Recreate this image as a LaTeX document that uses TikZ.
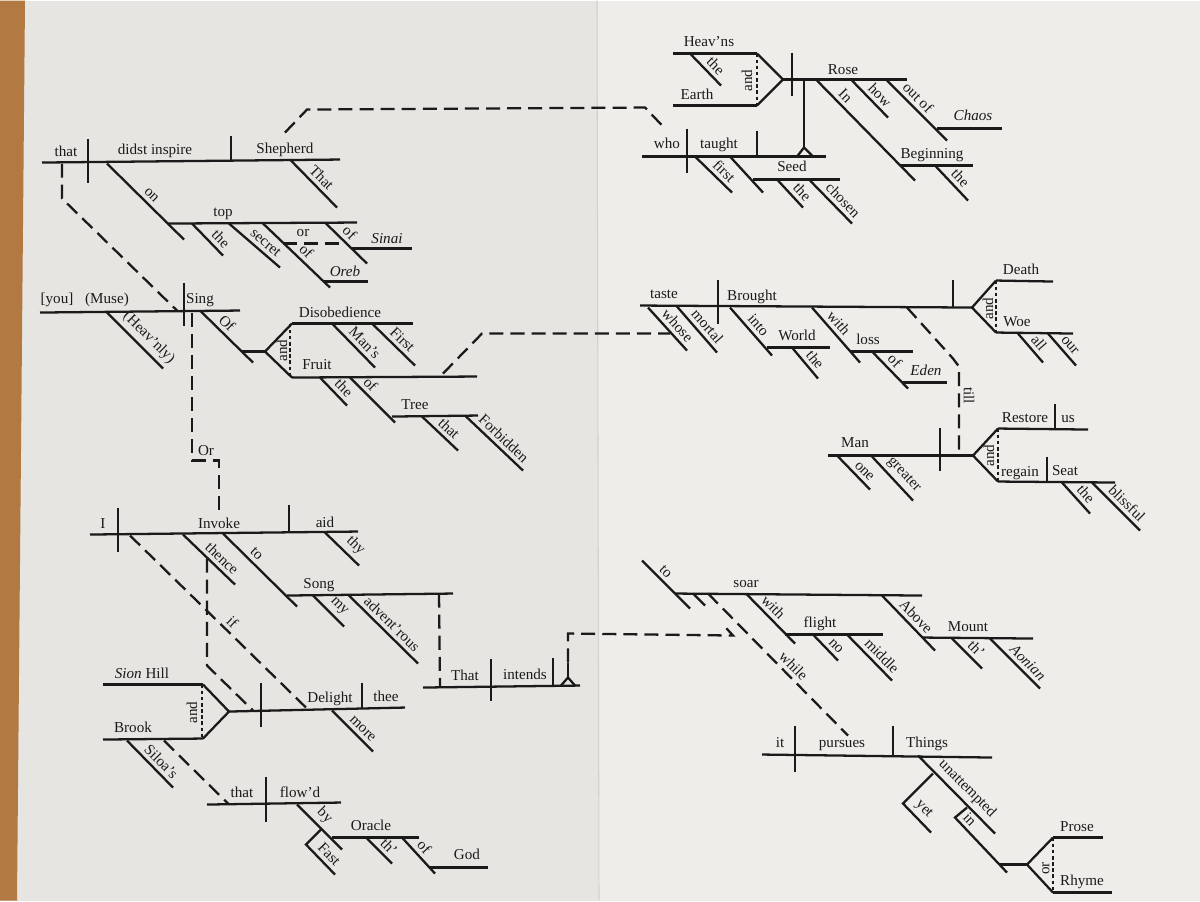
\documentclass[tikz,border=0pt]{standalone}
\usepackage{fontspec}
\setmainfont{Liberation Serif}
\usepackage{xcolor}
\usetikzlibrary{positioning}

\definecolor{ink}{HTML}{1A1A1A}
\definecolor{paper}{HTML}{E6E5E1}
\definecolor{paperR}{HTML}{EEEDEA}
\definecolor{wood}{HTML}{B27A42}
\definecolor{fold}{HTML}{D2D1CD}

\begin{document}
\begin{tikzpicture}[
    x=0.02cm, y=-0.02cm,
    rule/.style={draw=ink, line width=1.3pt},
    link/.style={draw=ink, line width=1.3pt, dash pattern=on 8pt off 4pt},
    conj/.style={draw=ink, line width=0.8pt, dash pattern=on 2pt off 1.5pt},
    word/.style={anchor=base, inner sep=0pt, text=ink, font=\fontsize{8.6}{10}\selectfont},
    mod/.style={sloped, above=1.6pt, inner sep=0.5pt, text=ink, font=\fontsize{8.6}{10}\selectfont},
    vword/.style={rotate=90, inner sep=0pt, text=ink, font=\fontsize{8.6}{10}\selectfont}
]

    % ================= PAPER =================
    \fill[paper] (0,0) rectangle (1200,900);
    \fill[paperR] (598,0) rectangle (1200,900);
    \fill[wood] (0,0) -- (25,0) -- (17,900) -- (0,900) -- cycle;
    \draw[fold, line width=0.6pt] (597,0) -- (599,900);
    \useasboundingbox (0,0) rectangle (1200,900);

    % ================= THAT DIDST INSPIRE =================
    \draw[rule] (42,162) -- (340,159);
    \draw[rule] (88,138) -- (88,182);
    \draw[rule] (231,135) -- (231,160);
    \node[word] (w-that1) at (66,156) {that};
    \node[word] (w-inspire) at (155,154) {didst inspire};
    \node[word] (w-shepherd) at (285,153) {Shepherd};
    \draw[rule] (290,159) -- node[mod, pos=.52] (m-that1) {That} (337,207);
    \draw[rule] (107,163) -- node[mod, pos=.5] (m-on) {on} (184,239);
    \draw[rule] (168,223) -- (357,222);
    \node[word] (w-top) at (223,216) {top};
    \draw[rule] (192,223) -- node[mod, pos=.7] (m-the1) {the} (223,255);
    \draw[rule] (229,223) -- node[mod, pos=.6] (m-secret) {secret} (280,267);
    \draw[rule] (262,222) -- node[mod, pos=.55] (m-of1) {of} (330,287);
    \draw[rule] (323,281) -- (368,281);
    \node[word] (w-oreb) at (345,276) {\textit{Oreb}};
    \draw[link] (283,243) -- (345,243);
    \node[word] (w-or1) at (303,236) {or};
    \draw[rule] (325,222) -- node[mod, pos=.42] (m-of2) {of} (367,263);
    \draw[rule] (351,248) -- (412,248);
    \node[word] (w-sinai) at (387,243) {\textit{Sinai}};
    % that -> Sing
    \draw[link] (62,163) -- (62,198) -- (177,310);

    % ================= SING =================
    \draw[rule] (40,312) -- (240,310);
    \draw[rule] (184,282) -- (184,325);
    \node[word] (w-you) at (57,303) {[you]};
    \node[word] (w-muse) at (107,303) {(Muse)};
    \node[word] (w-sing) at (200,303) {Sing};
    \draw[rule] (107,312) -- node[mod, pos=.6] (m-heavnly) {(Heav'nly)} (163,368);
    \draw[rule] (200,310) -- node[mod, pos=.38] (m-of3) {Of} (253,362);
    \coordinate (fork1) at (265,351);
    \draw[rule] (242,351) -- (fork1);
    \draw[rule] (292,323) -- (fork1) -- (292,377);
    \draw[rule] (292,323) -- (413,323);
    \draw[rule] (292,377) -- (477,376);
    \draw[conj] (290,323) -- (290,377);
    \node[vword] (v-and1) at (282,350) {and};
    \node[word] (w-disob) at (340,317) {Disobedience};
    \node[word] (w-fruit) at (317,369) {Fruit};
    \draw[rule] (332,323) -- node[mod, pos=.6] (m-mans) {Man's} (375,367);
    \draw[rule] (372,323) -- node[mod, pos=.55] (m-first1) {First} (415,365);
    \draw[rule] (320,377) -- node[mod, pos=.62] (m-the2) {the} (347,405);
    \draw[rule] (350,377) -- node[mod, pos=.3] (m-of4) {of} (395,422);
    \draw[rule] (392,416) -- (478,415);
    \node[word] (w-tree) at (415,409) {Tree};
    \draw[rule] (422,416) -- node[mod, pos=.56] (m-that2) {that} (458,450);
    \draw[rule] (465,415) -- node[mod, pos=.55] (m-forbid) {Forbidden} (523,470);
    % Sing -> Invoke
    \draw[link] (192,312) -- (192,460) -- (219,460) -- (219,515);
    \node[word] (w-or2) at (206,455) {Or};
    % Fruit -> whose
    \draw[link] (443,373) -- (482,333) -- (670,333);

    % ================= HEAV'NS AND EARTH ROSE =================
    \draw[rule] (673,53) -- (757,53);
    \draw[rule] (673,105) -- (757,105);
    \node[word] (w-heavns) at (709,46) {Heav'ns};
    \node[word] (w-earth) at (697,99) {Earth};
    \draw[rule] (690,53) -- node[mod, pos=.6] (m-the3) {the} (721,85);
    \coordinate (fork2) at (783,79);
    \draw[rule] (757,53) -- (fork2) -- (757,105);
    \draw[conj] (757,53) -- (757,105);
    \node[vword] (v-and2) at (747,80) {and};
    \draw[rule] (fork2) -- (907,79);
    \draw[rule] (792,52) -- (792,95);
    \node[word] (w-rose) at (843,74) {Rose};
    \draw[rule] (817,80) -- node[mod, pos=.22] (m-in1) {In} (915,180);
    \draw[rule] (900,165) -- (973,165);
    \node[word] (w-begin) at (932,158) {Beginning};
    \draw[rule] (935,165) -- node[mod, pos=.55] (m-the4) {the} (968,200);
    \draw[rule] (852,80) -- node[mod, pos=.58] (m-how) {how} (888,117);
    \draw[rule] (887,80) -- node[mod, pos=.4] (m-outof) {out of} (947,140);
    \draw[rule] (937,128) -- (1002,128);
    \node[word] (w-chaos) at (973,120) {\textit{Chaos}};
    % pedestal
    \draw[rule] (804,79) -- (804,147);
    \draw[rule] (797,156) -- (804,147) -- (813,156);

    % ================= WHO TAUGHT =================
    \draw[rule] (642,156) -- (826,156);
    \draw[rule] (687,128) -- (687,172);
    \draw[rule] (757,130) -- (757,156);
    \node[word] (w-who) at (667,148) {who};
    \node[word] (w-taught) at (719,148) {taught};
    \draw[rule] (695,156) -- node[mod, pos=.6] (m-first2) {first} (732,192);
    \draw[rule] (730,156) -- (763,192);
    \draw[rule] (753,179) -- (840,179);
    \node[word] (w-seed) at (792,171) {Seed};
    \draw[rule] (778,180) -- node[mod, pos=.68] (m-the5) {the} (803,207);
    \draw[rule] (810,180) -- node[mod, pos=.62] (m-chosen) {chosen} (852,223);
    % Shepherd -> who
    \draw[link] (285,132) -- (307,109) -- (645,107) -- (665,128);

    % ================= TASTE BROUGHT =================
    \draw[rule] (640,305) -- (972,307);
    \draw[rule] (718,279) -- (718,323);
    \node[word] (w-taste) at (664,298) {taste};
    \node[word] (w-brought) at (752,300) {Brought};
    \draw[rule] (648,307) -- node[mod, pos=.57] (m-whose) {whose} (687,350);
    \draw[rule] (677,306) -- node[mod, pos=.57] (m-mortal) {mortal} (717,352);
    \draw[rule] (730,307) -- node[mod, pos=.5] (m-into) {into} (772,355);
    \draw[rule] (767,347) -- (830,347);
    \node[word] (w-world) at (797,340) {World};
    \draw[rule] (792,347) -- node[mod, pos=.6] (m-the6) {the} (818,378);
    \draw[rule] (812,307) -- node[mod, pos=.4] (m-with1) {with} (860,362);
    \draw[rule] (850,351) -- (913,351);
    \node[word] (w-loss) at (868,344) {loss};
    \draw[rule] (873,352) -- node[mod, pos=.42] (m-of5) {of} (908,388);
    \draw[rule] (903,382) -- (947,382);
    \node[word] (w-eden) at (926,375) {\textit{Eden}};
    \draw[rule] (953,279) -- (953,307);
    \coordinate (fork3) at (972,307);
    \draw[rule] (996,280) -- (fork3) -- (996,332);
    \draw[rule] (996,280) -- (1053,281);
    \draw[rule] (996,332) -- (1073,333);
    \draw[conj] (996,280) -- (996,332);
    \node[vword] (v-and3) at (988,308) {and};
    \node[word] (w-death) at (1021,274) {Death};
    \node[word] (w-woe) at (1017,326) {Woe};
    \draw[rule] (1018,333) -- node[mod, pos=.54] (m-all) {all} (1043,362);
    \draw[rule] (1048,333) -- node[mod, pos=.55] (m-our) {our} (1076,365);
    % Brought -> Restore
    \draw[link] (907,307) -- (953,358) -- (959,366) -- (959,455);
    \node[vword, rotate=180] (v-till) at (969,395) {till};

    % ================= MAN RESTORE =================
    \draw[rule] (828,455) -- (973,455);
    \draw[rule] (940,427) -- (940,470);
    \node[word] (w-man) at (855,447) {Man};
    \draw[rule] (838,456) -- node[mod, pos=.63] (m-one) {one} (870,489);
    \draw[rule] (872,456) -- node[mod, pos=.58] (m-greater) {greater} (913,500);
    \coordinate (fork4) at (973,455);
    \draw[rule] (998,428) -- (fork4) -- (998,481);
    \draw[rule] (998,428) -- (1088,429);
    \draw[rule] (1055,403) -- (1055,429);
    \node[word] (w-restore) at (1025,422) {Restore};
    \node[word] (w-us) at (1068,422) {us};
    \draw[rule] (998,481) -- (1115,482);
    \draw[rule] (1047,456) -- (1047,481);
    \node[word] (w-regain) at (1020,476) {regain};
    \node[word] (w-seat) at (1065,475) {Seat};
    \draw[conj] (998,428) -- (998,481);
    \node[vword] (v-and4) at (989,455) {and};
    \draw[rule] (1062,482) -- node[mod, pos=.59] (m-the7) {the} (1090,513);
    \draw[rule] (1092,482) -- node[mod, pos=.58] (m-blissful) {blissful} (1140,530);

    % ================= I INVOKE =================
    \draw[rule] (90,534) -- (358,531);
    \draw[rule] (118,507) -- (118,551);
    \draw[rule] (289,504) -- (289,531);
    \node[word] (w-i) at (103,528) {I};
    \node[word] (w-invoke) at (219,528) {Invoke};
    \node[word] (w-aid) at (325,527) {aid};
    \draw[rule] (325,532) -- node[mod, pos=.66] (m-thy) {thy} (359,565);
    \draw[rule] (183,534) -- node[mod, pos=.62] (m-thence) {thence} (235,584);
    \draw[rule] (223,533) -- node[mod, pos=.37] (m-to1) {to} (297,606);
    \draw[rule] (287,595) -- (453,593);
    \node[word] (w-song) at (319,588) {Song};
    \draw[rule] (313,595) -- node[mod, pos=.6] (m-my) {my} (344,626);
    \draw[rule] (348,594) -- node[mod, pos=.53] (m-advent) {advent'rous} (418,663);
    % Invoke -> Delight
    \draw[link] (130,535) -- node[mod, pos=.54] (m-if) {if} (307,708);
    \draw[link] (207,558) -- (207,665) -- (253,710);
    % Song -> That
    \draw[link] (439,593) -- (440,686);

    % ================= THAT INTENDS =================
    \draw[rule] (423,687) -- (580,685);
    \draw[rule] (491,658) -- (491,700);
    \draw[rule] (553,657) -- (553,685);
    \node[word] (w-that3) at (465,680) {That};
    \node[word] (w-intends) at (525,679) {intends};
    \draw[rule] (561,685) -- (568,677) -- (575,685);
    \draw[rule] (568,677) -- (568,662);
    % intends -> soar
    \draw[link] (568,662) -- (568,633) -- (733,635) -- (722,623);

    % ================= SION HILL AND BROOK =================
    \draw[rule] (103,684) -- (203,684);
    \draw[rule] (103,739) -- (203,738);
    \node[word] (w-sion) at (142,678) {\textit{Sion} Hill};
    \node[word] (w-brook) at (133,732) {Brook};
    \coordinate (fork5) at (229,711);
    \draw[rule] (203,684) -- (fork5) -- (203,738);
    \draw[conj] (202,684) -- (202,738);
    \node[vword] (v-and5) at (192,712) {and};
    \draw[rule] (fork5) -- (405,707);
    \draw[rule] (261,682) -- (261,726);
    \draw[rule] (362,682) -- (362,708);
    \node[word] (w-delight) at (330,702) {Delight};
    \node[word] (w-thee) at (386,701) {thee};
    \draw[rule] (332,710) -- node[mod, pos=.6] (m-more) {more} (373,751);
    \draw[rule] (127,740) -- node[mod, pos=.59] (m-siloas) {Siloa's} (173,787);
    % Brook -> that
    \draw[link] (164,740) -- (228,803);

    % ================= THAT FLOW'D =================
    \draw[rule] (207,804) -- (341,802);
    \draw[rule] (266,776) -- (266,821);
    \node[word] (w-that4) at (242,797) {that};
    \node[word] (w-flowd) at (300,797) {flow'd};
    \draw[rule] (297,804) -- node[mod, pos=.43] (m-by) {by} (342,849);
    \draw[rule] (332,837) -- (419,837);
    \node[word] (w-oracle) at (371,830) {Oracle};
    \draw[rule] (321,829) -- (306,844) -- node[mod, pos=.56] (m-fast) {Fast} (335,874);
    \draw[rule] (367,838) -- node[mod, pos=.6] (m-th1) {th'} (392,863);
    \draw[rule] (402,837) -- node[mod, pos=.45] (m-of6) {of} (435,873);
    \draw[rule] (430,867) -- (488,867);
    \node[word] (w-god) at (467,859) {God};

    % ================= TO SOAR =================
    \draw[rule] (642,560) -- node[mod, pos=.36] (m-to2) {to} (690,608);
    \draw[rule] (675,593) -- (922,595);
    \node[word] (w-soar) at (746,587) {soar};
    \draw[rule] (693,593) -- (705,605);
    \draw[link] (708,593) -- node[mod, pos=.56] (m-while) {while} (848,735);
    \draw[rule] (747,594) -- node[mod, pos=.4] (m-with2) {with} (795,643);
    \draw[rule] (785,634) -- (883,634);
    \node[word] (w-flight) at (820,627) {flight};
    \draw[rule] (813,634) -- node[mod, pos=.67] (m-no) {no} (838,660);
    \draw[rule] (847,634) -- node[mod, pos=.62] (m-middle) {middle} (892,680);
    \draw[rule] (882,595) -- node[mod, pos=.51] (m-above) {Above} (935,650);
    \draw[rule] (922,637) -- (1033,638);
    \node[word] (w-mount) at (968,631) {Mount};
    \draw[rule] (952,638) -- node[mod, pos=.58] (m-th2) {th'} (982,668);
    \draw[rule] (990,638) -- node[mod, pos=.62] (m-aonian) {\textit{Aonian}} (1040,688);

    % ================= IT PURSUES =================
    \draw[rule] (762,754) -- (992,757);
    \draw[rule] (795,725) -- (795,771);
    \draw[rule] (893,725) -- (893,755);
    \node[word] (w-it) at (780,747) {it};
    \node[word] (w-pursues) at (842,747) {pursues};
    \node[word] (w-things) at (927,747) {Things};
    \draw[rule] (918,755) -- node[mod, pos=.53] (m-unatt) {unattempted} (995,833);
    \draw[rule] (933,773) -- (903,803) -- node[mod, pos=.46] (m-yet) {yet} (931,832);
    \draw[rule] (967,807) -- (955,817) -- node[mod, pos=.15] (m-in2) {in} (1007,872);
    \coordinate (fork6) at (1027,864);
    \draw[rule] (1000,864) -- (fork6);
    \draw[rule] (1053,837) -- (fork6) -- (1053,892);
    \draw[rule] (1053,837) -- (1103,837);
    \draw[rule] (1053,892) -- (1112,892);
    \draw[conj] (1053,837) -- (1053,892);
    \node[vword] (v-or) at (1046,868) {or};
    \node[word] (w-prose) at (1077,831) {Prose};
    \node[word] (w-rhyme) at (1082,885) {Rhyme};

\end{tikzpicture}
\end{document}
